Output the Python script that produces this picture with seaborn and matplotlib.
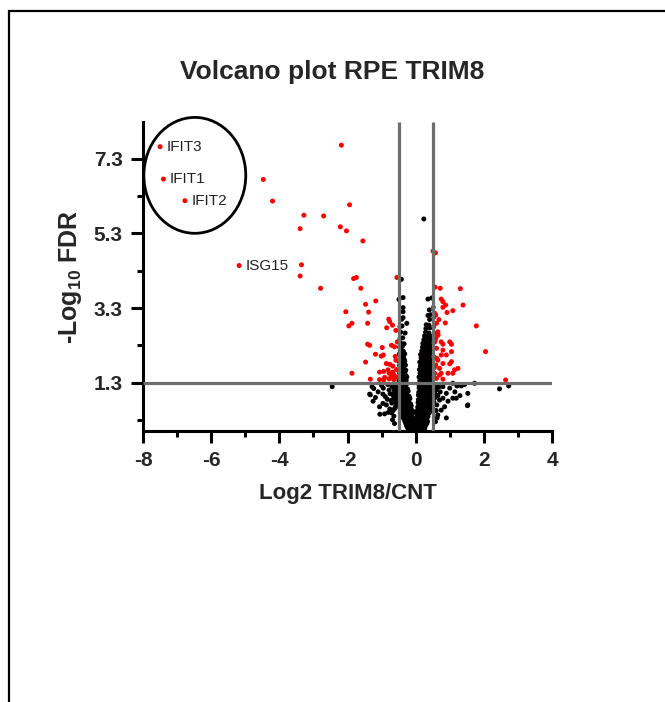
import matplotlib
matplotlib.use("Agg")
import matplotlib.pyplot as plt
import seaborn as sns
import pandas as pd
from matplotlib.patches import Ellipse, Rectangle

# ---------------------------------------------------------------- data
# significant proteins (FDR < 0.05, |log2 FC| > 0.5)
sig_log2fc = [
    -7.50, -7.40, -6.77, -5.18, -2.18, -4.47, -4.20, -1.94, -3.28, -2.70,
    -3.39, -2.21, -2.03, -3.35, -3.39, -2.79, -1.82, -1.74, -1.55, -1.61,
    -0.55, -1.47, -1.17, -2.05, -1.38, -1.96, -1.87, -1.41, -0.79, -0.76,
    -0.85, -0.68, -1.41, -1.35, -0.98, -0.71, -0.62, -0.54, -1.18, -1.01,
    -0.95, -1.47, -0.86, -0.76, -0.67, -1.06, -0.94, -0.81, -0.78, -0.67,
    -0.71, -0.64, -0.91, -1.87, -1.33, -1.06, -0.94, -0.78, -0.64, -0.58,
    -0.56, -0.60, -0.55, -0.58,
    0.51, 0.58, 0.57, 0.72, 1.31, 0.75, 0.80, 0.88, 0.80, 0.92,
    1.09, 1.39, 0.52, 0.56, 0.53, 0.59, 0.68, 0.87, 0.61, 1.78,
    0.65, 0.56, 0.61, 0.56, 0.75, 0.80, 1.00, 1.05, 2.05, 0.61,
    0.80, 0.75, 1.05, 0.90, 0.65, 0.59, 0.80, 1.00, 0.70, 1.14,
    1.24, 0.56, 0.75, 0.95, 0.61, 0.80, 1.09, 0.70, 2.64, 1.05,
    0.53, 0.55, 0.54, 0.58, 0.53, 0.62, 0.66,
]
sig_neglog10fdr = [
    7.63, 6.76, 6.18, 4.44, 7.67, 6.75, 6.17, 6.07, 5.79, 5.77,
    5.43, 5.48, 5.37, 4.46, 4.16, 3.83, 4.09, 4.12, 5.10, 3.83,
    4.12, 3.40, 3.49, 3.20, 3.19, 2.82, 2.89, 2.89, 3.00, 2.93,
    2.77, 2.84, 2.33, 2.30, 2.24, 2.30, 2.26, 2.39, 2.06, 2.01,
    2.04, 1.85, 1.81, 1.79, 1.74, 1.58, 1.60, 1.64, 1.55, 1.58,
    1.47, 1.51, 1.44, 1.55, 1.39, 1.38, 1.37, 1.40, 1.38, 1.90,
    1.65, 2.00, 1.45, 2.70,
    4.83, 4.78, 3.86, 3.83, 3.82, 3.54, 3.47, 3.38, 3.32, 3.18,
    3.23, 3.38, 3.32, 3.16, 3.06, 3.11, 2.99, 2.90, 2.89, 2.82,
    2.66, 2.62, 2.53, 2.39, 2.39, 2.33, 2.39, 2.33, 2.13, 2.22,
    2.17, 2.04, 2.13, 2.04, 1.90, 1.77, 1.81, 1.80, 1.68, 1.64,
    1.68, 1.55, 1.55, 1.55, 1.41, 1.39, 1.55, 1.50, 1.37, 1.86,
    2.00, 1.70, 1.45, 2.45, 2.80, 1.95, 2.58,
]

# non-significant proteins: base of the volcano
base_log2fc = [
    -0.21, -0.14, -0.06, 0.01, 0.07, 0.13, 0.20, 0.26,
    -0.24, -0.17, -0.09, -0.01, 0.06, 0.12, 0.19, 0.27,
    -0.27, -0.19, -0.11, -0.03, 0.04, 0.10, 0.17, 0.24, 0.30,
    -0.29, -0.21, -0.13, -0.05, 0.03, 0.11, 0.18, 0.26, 0.33,
    -0.31, -0.23, -0.15, -0.07, 0.00, 0.08, 0.15, 0.22, 0.29, 0.35,
    -0.33, -0.25, -0.17, -0.08, 0.02, 0.09, 0.16, 0.24, 0.31,
    -0.36, -0.28, -0.19, -0.10, -0.02, 0.05, 0.12, 0.19, 0.27, 0.34,
    -0.38, -0.30, -0.21, -0.12, 0.07, 0.14, 0.21, 0.29, 0.36,
    -0.40, -0.32, -0.23, -0.14, 0.03, 0.11, 0.18, 0.25, 0.32, 0.39,
]
base_neglog10fdr = [
    0.04, 0.06, 0.03, 0.05, 0.02, 0.07, 0.04, 0.06,
    0.09, 0.10, 0.08, 0.11, 0.09, 0.10, 0.08, 0.09,
    0.14, 0.16, 0.13, 0.15, 0.17, 0.12, 0.15, 0.14, 0.16,
    0.20, 0.19, 0.21, 0.20, 0.19, 0.21, 0.20, 0.19, 0.21,
    0.25, 0.23, 0.27, 0.24, 0.26, 0.22, 0.25, 0.27, 0.23, 0.26,
    0.30, 0.31, 0.29, 0.30, 0.31, 0.29, 0.30, 0.31, 0.29,
    0.35, 0.37, 0.34, 0.36, 0.33, 0.37, 0.35, 0.34, 0.36, 0.38,
    0.40, 0.41, 0.39, 0.40, 0.41, 0.39, 0.40, 0.41, 0.39,
    0.45, 0.47, 0.44, 0.46, 0.45, 0.43, 0.47, 0.44, 0.46, 0.48,
]

# non-significant, down-shifted arm below the FDR cut-off
left_log2fc = [
    -0.42, -0.31, -0.22, -0.06,
    -0.44, -0.35, -0.27, -0.18, -0.10,
    -0.62, -0.43, -0.34, -0.25, -0.16,
    -0.47, -0.39, -0.30, -0.21, -0.13,
    -0.58, -0.46, -0.36, -0.27, -0.19,
    -0.50, -0.41, -0.33, -0.24, -0.15,
    -0.60, -0.48, -0.39, -0.30, -0.21,
    -0.52, -0.44, -0.35, -0.26, -0.17,
    -0.64, -0.50, -0.41, -0.32, -0.23,
    -0.55, -0.46, -0.37, -0.28, -0.19,
    -0.66, -0.52, -0.43, -0.34, -0.26,
    -0.56, -0.48, -0.39, -0.30, -0.22,
    -0.63, -0.54, -0.45, -0.36, -0.28,
    -0.58, -0.50, -0.41, -0.32, -0.24,
    -0.67, -0.56, -0.47, -0.38, -0.30,
    -0.60, -0.51, -0.43, -0.34, -0.26,
]
left_neglog10fdr = [
    0.50, 0.51, 0.49, 0.50,
    0.54, 0.57, 0.53, 0.56, 0.55,
    0.60, 0.61, 0.59, 0.60, 0.61,
    0.65, 0.63, 0.66, 0.64, 0.67,
    0.70, 0.71, 0.69, 0.70, 0.71,
    0.75, 0.77, 0.74, 0.76, 0.73,
    0.80, 0.81, 0.79, 0.80, 0.81,
    0.85, 0.83, 0.86, 0.84, 0.87,
    0.90, 0.91, 0.89, 0.90, 0.91,
    0.95, 0.97, 0.94, 0.96, 0.93,
    1.00, 1.01, 0.99, 1.00, 1.01,
    1.05, 1.03, 1.06, 1.04, 1.07,
    1.10, 1.11, 1.09, 1.10, 1.11,
    1.15, 1.17, 1.14, 1.16, 1.13,
    1.20, 1.21, 1.19, 1.20, 1.21,
    1.25, 1.23, 1.26, 1.24, 1.27,
]

# non-significant, up-shifted arm below the FDR cut-off
right_log2fc = [
    0.08, 0.16, 0.33, 0.40,
    0.05, 0.13, 0.21, 0.29, 0.37, 0.43,
    0.09, 0.17, 0.25, 0.33, 0.41, 0.49,
    0.06, 0.14, 0.22, 0.30, 0.38, 0.45,
    0.10, 0.18, 0.26, 0.34, 0.42, 0.51,
    0.07, 0.15, 0.23, 0.31, 0.39, 0.47,
    0.11, 0.19, 0.27, 0.35, 0.44, 0.53,
    0.08, 0.16, 0.24, 0.32, 0.40, 0.48,
    0.12, 0.20, 0.28, 0.36, 0.45, 0.55,
    0.08, 0.17, 0.25, 0.33, 0.41, 0.49,
    0.13, 0.21, 0.29, 0.38, 0.46, 0.57,
    0.09, 0.18, 0.26, 0.34, 0.42, 0.50,
    0.14, 0.22, 0.31, 0.39, 0.47, 0.55,
    0.10, 0.19, 0.27, 0.35, 0.43, 0.51,
    0.15, 0.23, 0.32, 0.40, 0.48, 0.58,
    0.10, 0.19, 0.28, 0.36, 0.44, 0.53,
]
right_neglog10fdr = [
    0.50, 0.49, 0.51, 0.50,
    0.55, 0.53, 0.56, 0.54, 0.57, 0.55,
    0.60, 0.61, 0.59, 0.60, 0.61, 0.59,
    0.64, 0.66, 0.63, 0.65, 0.67, 0.64,
    0.70, 0.71, 0.69, 0.70, 0.71, 0.69,
    0.76, 0.74, 0.77, 0.75, 0.73, 0.76,
    0.80, 0.81, 0.79, 0.80, 0.81, 0.79,
    0.84, 0.86, 0.83, 0.85, 0.87, 0.84,
    0.90, 0.91, 0.89, 0.90, 0.91, 0.89,
    0.96, 0.94, 0.97, 0.95, 0.93, 0.96,
    1.00, 1.01, 0.99, 1.00, 1.01, 0.99,
    1.04, 1.06, 1.03, 1.05, 1.07, 1.04,
    1.10, 1.11, 1.09, 1.10, 1.11, 1.09,
    1.16, 1.14, 1.17, 1.15, 1.13, 1.16,
    1.20, 1.21, 1.19, 1.20, 1.21, 1.19,
    1.24, 1.26, 1.23, 1.25, 1.27, 1.24,
]

# inside the fold-change window but above the FDR cut-off
left_hi_log2fc = [
    -0.49, -0.42, -0.35, -0.28, -0.45, -0.38, -0.31,
    -0.48, -0.41, -0.33, -0.26, -0.44, -0.36, -0.29,
    -0.47, -0.40, -0.32, -0.43, -0.35,
    -0.46, -0.38, -0.29, -0.44, -0.35,
    -0.47, -0.39, -0.30, -0.44, -0.36,
    -0.48, -0.40, -0.32, -0.41, -0.33,
    -0.45, -0.36, -0.44, -0.36,
    -0.48, -0.40, -0.32, -0.42,
    -0.45, -0.36, -0.44, -0.47, -0.39, -0.41,
    -0.44, -0.34, -0.46, -0.38,
    -0.44, -0.31, -0.46, -0.40, -0.41, -0.37, -0.26,
    -0.37, -0.37, -0.49, -0.37, -0.42,
]
left_hi_neglog10fdr = [
    1.35, 1.37, 1.34, 1.36, 1.40, 1.41, 1.39,
    1.44, 1.46, 1.43, 1.45, 1.50, 1.51, 1.49,
    1.55, 1.53, 1.56, 1.60, 1.61,
    1.64, 1.66, 1.63, 1.70, 1.71,
    1.76, 1.74, 1.77, 1.80, 1.81,
    1.86, 1.84, 1.87, 1.90, 1.91,
    1.95, 1.97, 2.00, 2.01,
    2.06, 2.04, 2.07, 2.10,
    2.16, 2.14, 2.20, 2.25, 2.27, 2.30,
    2.36, 2.34, 2.48, 2.50,
    2.65, 2.63, 2.80, 2.82, 3.00, 3.04, 2.89,
    3.20, 3.31, 3.53, 3.58, 4.07,
]
right_hi_log2fc = [
    0.12, 0.20, 0.28, 0.36, 0.44,
    0.16, 0.24, 0.32, 0.40, 0.48,
    0.10, 0.19, 0.27, 0.35, 0.43,
    0.15, 0.23, 0.33, 0.41,
    0.13, 0.21, 0.30, 0.38, 0.46,
    0.17, 0.25, 0.34, 0.42,
    0.11, 0.20, 0.28, 0.37, 0.45,
    0.16, 0.26, 0.35, 0.43,
    0.14, 0.23, 0.31, 0.40, 0.48,
    0.18, 0.27, 0.35, 0.44,
    0.12, 0.21, 0.30, 0.38, 0.46,
    0.20, 0.29, 0.37, 0.46,
    0.16, 0.25, 0.33, 0.42,
    0.19, 0.28, 0.37, 0.45,
    0.14, 0.23, 0.32, 0.41, 0.48,
    0.22, 0.31, 0.40,
    0.18, 0.27, 0.36, 0.44,
    0.24, 0.33, 0.42,
    0.20, 0.29, 0.38, 0.46,
    0.26, 0.35, 0.44,
    0.21, 0.31, 0.40,
    0.28, 0.38,
    0.24, 0.33, 0.43,
    0.30, 0.40,
    0.26, 0.36, 0.45,
    0.29, 0.39, 0.30, 0.42, 0.31, 0.39,
    0.41, 0.36, 0.44, 0.40, 0.36, 0.47, 0.24,
]
right_hi_neglog10fdr = [
    1.35, 1.37, 1.34, 1.36, 1.33,
    1.40, 1.41, 1.39, 1.40, 1.41,
    1.45, 1.43, 1.46, 1.44, 1.47,
    1.50, 1.51, 1.49, 1.50,
    1.55, 1.57, 1.54, 1.56, 1.53,
    1.60, 1.61, 1.59, 1.60,
    1.65, 1.63, 1.66, 1.64, 1.67,
    1.70, 1.71, 1.69, 1.70,
    1.75, 1.77, 1.74, 1.76, 1.73,
    1.80, 1.81, 1.79, 1.80,
    1.85, 1.87, 1.84, 1.86, 1.83,
    1.90, 1.91, 1.89, 1.90,
    1.95, 1.93, 1.96, 1.94,
    2.00, 2.01, 1.99, 2.00,
    2.05, 2.07, 2.04, 2.06, 2.03,
    2.10, 2.11, 2.09,
    2.15, 2.13, 2.16, 2.14,
    2.20, 2.21, 2.19,
    2.25, 2.27, 2.24, 2.26,
    2.30, 2.31, 2.29,
    2.35, 2.33, 2.36,
    2.40, 2.41,
    2.45, 2.47, 2.44,
    2.50, 2.51,
    2.55, 2.57, 2.54,
    2.65, 2.63, 2.75, 2.77, 2.85, 2.84,
    2.99, 3.10, 3.12, 3.25, 3.54, 3.57, 5.69,
]

# scattered non-significant proteins outside the window
scatter_log2fc = [
    -1.28, -1.23, -1.35, -0.96, -0.89, -0.96, -0.86, -1.06, -0.76, -0.71,
    -0.91, -0.83, -2.45, -1.33, -0.70, -0.78, -0.65, -0.72, -0.68, -0.60,
    -0.82, -1.00, -0.62, -0.64, -1.10, -1.18, -0.95, -0.75, -0.70, -0.80,
    -0.66, -1.05, -1.25, -0.62,
    0.80, 1.09, 1.24, 1.34, 1.44, 1.73, 1.53, 1.09, 1.19, 0.90,
    0.70, 0.80, 1.53, 0.75, 0.65, 2.46, 2.73, 1.52, 1.21, 0.60,
    0.62, 0.58, 0.68, 0.57, 0.63, 0.65, 0.72, 0.85, 0.95, 1.00,
    0.60, 0.90, 1.30, 0.58, 1.15,
]
scatter_neglog10fdr = [
    1.19, 1.14, 0.99, 0.99, 0.92, 0.74, 0.70, 0.65, 0.59, 0.49,
    0.46, 0.85, 1.19, 0.97, 1.20, 1.10, 0.95, 0.82, 0.30, 0.62,
    1.25, 1.22, 0.20, 0.40, 1.05, 0.90, 1.15, 1.00, 0.75, 0.50,
    0.55, 0.45, 0.80, 1.10,
    1.19, 1.28, 1.23, 1.21, 1.25, 1.28, 1.01, 0.88, 0.88, 1.01,
    0.83, 0.88, 0.70, 0.56, 0.43, 1.13, 1.21, 0.68, 1.21, 1.10,
    0.70, 0.25, 1.18, 0.90, 0.35, 0.95, 1.05, 0.65, 0.80, 1.15,
    0.55, 0.35, 0.95, 1.25, 1.05,
]

# labelled interferon-stimulated genes
gene_names = ["IFIT3", "IFIT1", "IFIT2", "ISG15"]
gene_log2fc = [-7.50, -7.40, -6.77, -5.18]
gene_neglog10fdr = [7.63, 6.76, 6.18, 4.44]

# thresholds and axis ticks
fc_cutoff = 0.5
fdr_cutoff = 1.3
x_ticks = [-8, -6, -4, -2, 0, 2, 4]
x_minor_ticks = [-7, -5, -3, -1, 1, 3]
y_ticks = [1.3, 3.3, 5.3, 7.3]
y_tick_labels = ["1.3", "3.3", "5.3", "7.3"]
y_minor_ticks = [0.3, 2.3, 4.3, 6.3]

# ---------------------------------------------------------------- table
ns_x = (base_log2fc + left_log2fc + right_log2fc + left_hi_log2fc
        + right_hi_log2fc + scatter_log2fc)
ns_y = (base_neglog10fdr + left_neglog10fdr + right_neglog10fdr
        + left_hi_neglog10fdr + right_hi_neglog10fdr + scatter_neglog10fdr)
df = pd.concat([
    pd.DataFrame({"log2fc": ns_x, "neglog10fdr": ns_y, "group": "ns"}),
    pd.DataFrame({"log2fc": sig_log2fc, "neglog10fdr": sig_neglog10fdr,
                  "group": "sig"}),
], ignore_index=True)

# ---------------------------------------------------------------- style
sns.set_style("white")
plt.rcParams["font.family"] = ["Liberation Sans", "DejaVu Sans"]
plt.rcParams["axes.unicode_minus"] = False
plt.rcParams["mathtext.fontset"] = "custom"
plt.rcParams["mathtext.rm"] = "Liberation Sans:bold"
plt.rcParams["mathtext.default"] = "rm"

W, H = 665, 702
fig = plt.figure(figsize=(W / 100, H / 100), dpi=100)
ax = fig.add_axes([143 / W, 1 - 431 / H, 409 / W, 309.3 / H])

sns.scatterplot(data=df, x="log2fc", y="neglog10fdr", hue="group",
                palette={"ns": "black", "sig": "#ff0000"}, s=13,
                linewidth=0, legend=False, ax=ax, zorder=2)

# cut-off lines
line_kw = dict(color="#6e6e6e", lw=2.3, zorder=3, solid_capstyle="butt")
ax.axvline(-fc_cutoff, **line_kw)
ax.axvline(fc_cutoff, **line_kw)
ax.axhline(fdr_cutoff, **line_kw)

# gene labels
for name, gx, gy in zip(gene_names, gene_log2fc, gene_neglog10fdr):
    ax.annotate(name, (gx, gy), xytext=(4.5, 0), textcoords="offset points",
                ha="left", va="center", fontsize=11, color="#222222",
                zorder=4)

# circle around the IFIT cluster
ax.add_patch(Ellipse((-6.48, 6.86), width=2.99, height=3.11, fill=False,
                     ec="black", lw=2.0, clip_on=False, zorder=4))

ax.set_xlim(-8, 4)
ax.set_ylim(0, 8.3)
sns.despine(ax=ax)
for side in ("left", "bottom"):
    ax.spines[side].set_linewidth(2.2)
    ax.spines[side].set_color("black")

ax.set_xticks(x_ticks)
ax.set_xticks(x_minor_ticks, minor=True)
ax.set_xticklabels([str(t) for t in x_ticks])
ax.set_yticks(y_ticks)
ax.set_yticks(y_minor_ticks, minor=True)
ax.set_yticklabels(y_tick_labels)
ax.tick_params(which="major", direction="out", length=8.5, width=2.2,
               color="black", labelsize=15, pad=6, bottom=True, left=True)
ax.tick_params(which="minor", direction="out", length=4.5, width=2.2,
               color="black", bottom=True, left=True)
for lab in ax.get_xticklabels() + ax.get_yticklabels():
    lab.set_fontweight("bold")

ax.set_xlabel("Log2 TRIM8/CNT", fontsize=16, fontweight="bold", labelpad=9)
ax.set_ylabel("-Log$_{10}$ FDR", fontsize=18, fontweight="bold", labelpad=7)

fig.text(0.5, 1 - 72 / H, "Volcano plot RPE TRIM8", ha="center",
         va="center", fontsize=19, fontweight="bold")

# page border
fig.add_artist(Rectangle((8.5 / W, -0.1), 1.2, 1 - 10.5 / H + 0.1,
                         transform=fig.transFigure, fill=False,
                         ec="black", lw=1.6))

fig.savefig("out.png", dpi=100, facecolor="white")
